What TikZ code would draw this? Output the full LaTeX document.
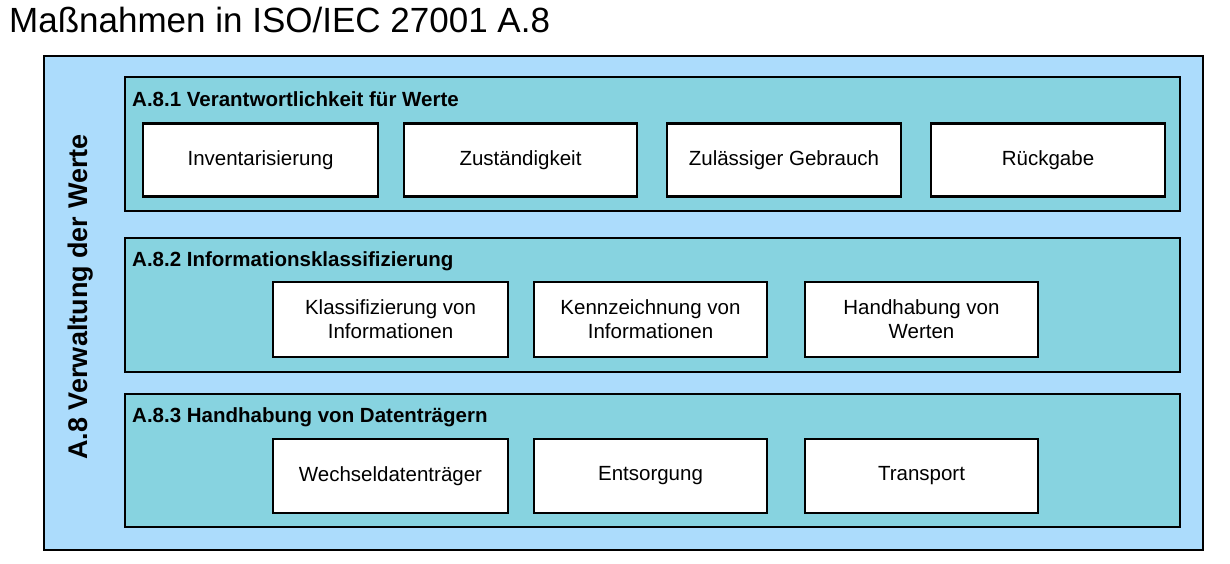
\documentclass[tikz,border=0pt]{standalone}
\usepackage{fontspec}
\setmainfont{Liberation Sans}
\definecolor{outerblue}{HTML}{ACDCFC}
\definecolor{teal}{HTML}{87D3E0}
\begin{document}
\begin{tikzpicture}[x=1pt,y=-1pt,
  outerbox/.style={draw=black,line width=2.6pt,fill=outerblue},
  groupbox/.style={draw=black,line width=2.2pt,fill=teal},
  itembox/.style={draw=black,line width=2.4pt,fill=white,align=center,font=\fontsize{20.5}{24}\selectfont,inner sep=0pt},
  grouptitle/.style={anchor=base west,font=\fontsize{20.5}{24}\selectfont\bfseries,inner sep=0pt},
]
\useasboundingbox (0,0) rectangle (1230,563);
\node[anchor=base west,inner sep=0pt,font=\fontsize{35}{40}\selectfont] (title) at (9,32) {Maßnahmen in ISO/IEC 27001 A.8};
\draw[outerbox] (44,56) rectangle (1203,550);
\node[rotate=90,font=\fontsize{27}{30}\selectfont\bfseries,inner sep=0pt] (side) at (81,297) {A.8 Verwaltung der Werte};
% group 1
\draw[groupbox] (125,77) rectangle (1180,211);
\node[grouptitle] (g1) at (132,106) {A.8.1 Verantwortlichkeit für Werte};
\node[itembox,minimum width=235pt,minimum height=73pt] (i11) at (260.5,160) {Inventarisierung};
\node[itembox,minimum width=233pt,minimum height=73pt] (i12) at (520.5,160) {Zuständigkeit};
\node[itembox,minimum width=234pt,minimum height=73pt] (i13) at (784,160) {Zulässiger Gebrauch};
\node[itembox,minimum width=234pt,minimum height=73pt] (i14) at (1048,160) {Rückgabe};
% group 2
\draw[groupbox] (125,238) rectangle (1180,372);
\node[grouptitle] (g2) at (132,266) {A.8.2 Informationsklassifizierung};
\node[itembox,minimum width=235pt,minimum height=75pt] (i21) at (390.5,319.5) {Klassifizierung von\\Informationen};
\node[itembox,minimum width=233pt,minimum height=75pt] (i22) at (650.5,319.5) {Kennzeichnung von\\Informationen};
\node[itembox,minimum width=233pt,minimum height=75pt] (i23) at (921.5,319.5) {Handhabung von\\Werten};
% group 3
\draw[groupbox] (125,394) rectangle (1180,527);
\node[grouptitle] (g3) at (132,422) {A.8.3 Handhabung von Datenträgern};
\node[itembox,minimum width=235pt,minimum height=74pt] (i31) at (390.5,476) {Wechseldatenträger};
\node[itembox,minimum width=233pt,minimum height=74pt] (i32) at (650.5,476) {Entsorgung};
\node[itembox,minimum width=233pt,minimum height=74pt] (i33) at (921.5,476) {Transport};
\end{tikzpicture}
\end{document}
